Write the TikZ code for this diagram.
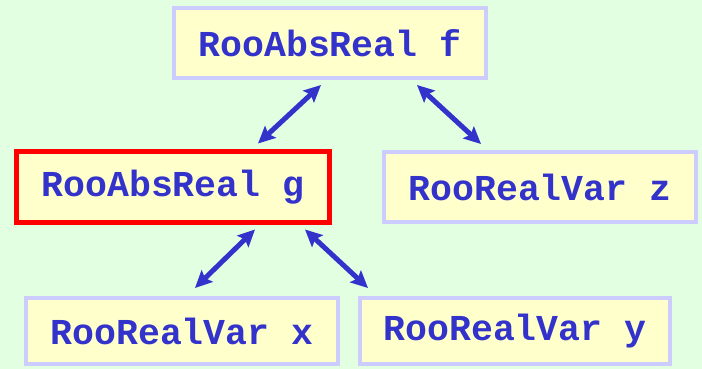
\documentclass[tikz,border=0pt]{standalone}
\usepackage{fontspec}
\newfontfamily\courfont{Liberation Mono}
\usetikzlibrary{arrows.meta,calc}
\definecolor{bgcol}{HTML}{E2FFE2}
\definecolor{boxfill}{HTML}{FFFFCC}
\definecolor{boxline}{HTML}{CCCCFF}
\definecolor{txtcol}{HTML}{3333CC}
\tikzset{
  varbox/.style={draw=boxline, line width=4pt, fill=boxfill, inner sep=0pt,
    font=\courfont\bfseries\fontsize{36.5}{40}\selectfont, text=txtcol,
    minimum width=312pt, minimum height=70pt},
  selbox/.style={varbox, draw=red, line width=5pt},
  link/.style={draw=txtcol, line width=5pt,
    {Stealth[length=17pt,width=16pt,inset=3pt]}-{Stealth[length=17pt,width=16pt,inset=3pt]}}
}
\begin{document}
\begin{tikzpicture}[x=1pt,y=-1pt]
\fill[bgcol] (0,0) rectangle (702,369);
\useasboundingbox (0,0) rectangle (702,369);
\node[varbox] (f) at (330,43) {RooAbsReal f};
\node[selbox, minimum width=313pt, minimum height=71pt] (g) at (173,187) {RooAbsReal g};
\node[varbox] (z) at (540,187) {RooRealVar z};
\node[varbox, minimum height=66pt] (x) at (182,331) {RooRealVar x};
\node[varbox, minimum width=310pt, minimum height=66pt] (y) at (515,331) {RooRealVar y};
\draw[link] ($(f.south)+(-9,5)$) -- ($(g.north)+(85,-5.5)$);
\draw[link] ($(f.south)+(87,5)$) -- ($(z.north)+(-59,-6)$);
\draw[link] ($(g.south)+(82,4.5)$) -- ($(x.north)+(13,-8)$);
\draw[link] ($(g.south)+(132,4.5)$) -- ($(y.north)+(-147,-8)$);
\end{tikzpicture}
\end{document}
